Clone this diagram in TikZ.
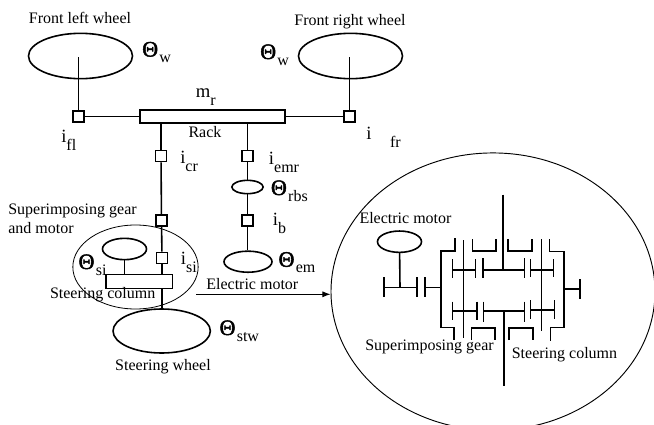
\documentclass[tikz,border=0pt]{standalone}
\usepackage{fontspec}
\setmainfont{Liberation Serif}
\newfontfamily\thetafont[FakeBold=2.2]{Liberation Serif}
\usepackage{tikz}
\usetikzlibrary{arrows.meta,positioning,shapes.geometric}
\newcommand{\Sb}[2]{{\fontsize{14}{14}\selectfont #1}\raisebox{-6pt}{#2}}
\newcommand{\Th}[1]{{\fontsize{16.5}{16}\thetafont Θ}\hspace{1pt}\raisebox{-4.5pt}{#1}}

\begin{document}
\begin{tikzpicture}[
  x=0.75pt,y=-0.75pt,
  >=Latex,
  font=\fontsize{12}{14}\selectfont,
  shaft/.style={line width=1.2pt},
  wheel/.style={draw,ellipse,line width=1.2pt,inner sep=0pt},
  ratio/.style={draw,line width=1.2pt,fill=white,minimum size=8.2pt,inner sep=0pt},
  bar/.style={draw,line width=1.2pt,fill=white,inner sep=0pt},
  outline/.style={draw,ellipse,line width=0.6pt,inner sep=0pt},
  sym/.style={anchor=base west,inner sep=0pt},
  txt/.style={inner sep=0pt}
]
\clip (0,0) rectangle (654,425);

\node[wheel,minimum width=78pt,minimum height=34pt] (fl) at (80.5,56) {};
\node[wheel,minimum width=78pt,minimum height=34pt] (fr) at (350.5,56) {};
\node[bar,minimum width=109pt,minimum height=10pt] (rack) at (212.5,116.5) {};
\node[ratio] (ifl) at (78.5,116.5) {};
\node[ratio] (ifr) at (349.5,116.5) {};
\node[ratio] (icr) at (161,156) {};
\node[ratio] (iemr) at (247.5,156) {};
\node[wheel,minimum width=23.5pt,minimum height=10pt] (rbs) at (247.5,187) {};
\node[ratio] (ib) at (247.5,220.7) {};
\node[wheel,minimum width=36pt,minimum height=15.8pt] (em) at (248,261.7) {};
\node[ratio] (igear) at (161.5,220.7) {};
\node[ratio] (isi) at (162,258) {};
\node[bar,minimum width=50pt,minimum height=10.5pt] (gear) at (139.3,281.3) {};
\node[wheel,minimum width=33pt,minimum height=16pt] (si) at (124.5,249) {};
\node[wheel,minimum width=73pt,minimum height=33pt] (stw) at (161.7,331) {};
\node[outline,minimum width=94pt,minimum height=63pt] (group) at (135.5,267) {};
\node[outline,line width=0.7pt,minimum width=243pt,minimum height=208pt] (zoom) at (493,291.6) {};
\node[wheel,minimum width=33pt,minimum height=16pt] (motor) at (399.5,241.7) {};

\draw[shaft] (fl.center) ++(-2,1) -- (ifl);
\draw[shaft] (fr.center) ++(-1,1) -- (ifr);
\draw[shaft] (ifl) -- (rack);
\draw[shaft] (rack) -- (ifr);
\draw[shaft] (icr |- rack.south) -- (icr);
\draw[shaft] (icr) -- (igear);
\draw[shaft] (igear) -- (isi);
\draw[shaft] (isi) -- (isi |- gear.north);
\draw[shaft] (si) -- (si |- gear.north);
\draw[shaft] (stw.north |- gear.south) -- (stw);
\draw[shaft] (iemr |- rack.south) -- (iemr);
\draw[shaft] (iemr) -- (rbs);
\draw[shaft] (rbs) -- (ib);
\draw[shaft] (ib) -- (ib |- em.north);

\coordinate (arrowstart) at (196,294.3);
\draw[->,line width=0.7pt] (arrowstart) -- (arrowstart -| zoom.west);

\begin{scope}[shaft]
\draw (motor) -- (400,287.3);
\draw (384,277.3) -- (384,296.7);
\draw (416.7,277.3) -- (416.7,296.7);
\draw (384,287.3) -- (416.7,287.3);
\draw (425,277.3) -- (425,296.7);
\draw (425,287.3) -- (441,287.3);
\draw (455,238.3) -- (455,250.7) -- (441,250.7) -- (441,327.3) -- (454,327.3) -- (454,340);
\draw (463.3,240) -- (463.3,338.3);
\draw (452.3,259.3) -- (452.3,278.3);
\draw (475.3,259.3) -- (475.3,278.3);
\draw (452.3,270) -- (475.3,270);
\draw (452.3,301.7) -- (452.3,320);
\draw (476.7,301.7) -- (476.7,320);
\draw (452.3,310.7) -- (476.7,310.7);
\draw (472.3,239) -- (472.3,250.7) -- (496,250.7) -- (496,239);
\draw (508,239) -- (508,250.7) -- (532,250.7) -- (532,239);
\draw (503,194.7) -- (503,270);
\draw (482.7,270) -- (524.3,270);
\draw (482.7,258.3) -- (482.7,278.3);
\draw (524.3,258.3) -- (524.3,278.3);
\draw (503.7,310.7) -- (503.7,386);
\draw (483.3,310.7) -- (524.3,310.7);
\draw (483.3,301.7) -- (483.3,321.7);
\draw (524.3,301.7) -- (524.3,321.7);
\draw (471.3,340) -- (471.3,328) -- (495,328) -- (495,340);
\draw (509,340) -- (509,328) -- (532.7,328) -- (532.7,340);
\draw (530.3,270) -- (553.3,270);
\draw (530.3,259.3) -- (530.3,277.3);
\draw (553.3,259.3) -- (553.3,277.3);
\draw (530.3,310) -- (554.3,310);
\draw (530.3,300) -- (530.3,319.3);
\draw (554.3,300) -- (554.3,319.3);
\draw (541.3,239) -- (541.3,330.7);
\draw (549.3,239) -- (549.3,251.3) -- (563.7,251.3) -- (563.7,327.3) -- (550.3,327.3) -- (550.3,340.7);
\draw (563.7,289) -- (580,289);
\draw (580,279.3) -- (580,298.7);
\end{scope}

\node[txt] (flname) at (80,18) {Front left wheel};
\node[txt] (frname) at (350,22) {Front right wheel};
\node[txt] (rackname) at (205,132) {Rack};
\node[txt,align=left,anchor=north west] (siname) at (8,204) {Superimposing gear\\and motor};
\node[txt] (colname) at (102.7,294.3) {Steering column};
\node[txt] (emname) at (252.3,284.3) {Electric motor};
\node[txt] (stwname) at (163,366.7) {Steering wheel};
\node[txt] (motorname) at (405.5,218) {Electric motor};
\node[txt] (gearname) at (429.5,346.7) {Superimposing gear};
\node[txt] (zoomcol) at (564.5,355) {Steering column};

\node[sym] (thw1) at (142,56.5) {\Th{w}};
\node[sym] (thw2) at (260,59) {\Th{w}};
\node[sym] (thrbs) at (270.7,195) {\Th{rbs}};
\node[sym] (thsi) at (78.3,269) {\Th{si}};
\node[sym] (them) at (278.3,266.7) {\Th{em}};
\node[sym] (thstw) at (219.3,335) {\Th{stw}};
\node[sym] (mr) at (195.7,97.7) {\Sb{m}{r}};
\node[sym] (rfl) at (61,142.7) {\Sb{i}{fl}};
\node[sym] (rfr) at (366,139) {\Sb{i\hspace{14pt}}{fr}};
\node[sym] (rcr) at (180,163.3) {\Sb{i}{cr}};
\node[sym] (remr) at (268.7,164) {\Sb{i}{emr}};
\node[sym] (rb) at (272.7,225) {\Sb{i}{b}};
\node[sym] (rsi) at (180.7,264) {\Sb{i}{si}};
\end{tikzpicture}
\end{document}
